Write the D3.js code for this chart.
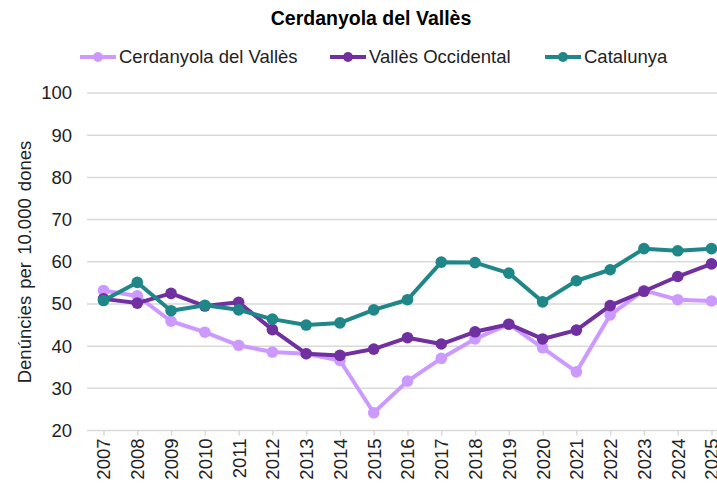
<!DOCTYPE html>
<html>
<head>
<meta charset="utf-8">
<script src="https://cdn.jsdelivr.net/npm/d3@7"></script>
<style>
body { margin: 0; background: #fff; }
svg { display: block; font-family: "Liberation Sans", Arial, sans-serif; }
</style>
</head>
<body>
<svg id="chart" width="717" height="484"></svg>
<script>
const years = ["2007","2008","2009","2010","2011","2012","2013","2014","2015","2016","2017","2018","2019","2020","2021","2022","2023","2024","2025"];
const cerdanyola = [53.2,51.9,45.9,43.3,40.2,38.6,38.2,36.6,24.2,31.7,37.1,41.7,45.2,39.6,33.9,47.4,53.2,51.0,50.7];
const vallesOcc = [51.2,50.2,52.5,49.5,50.4,43.9,38.2,37.8,39.3,42.0,40.5,43.4,45.2,41.7,43.8,49.6,53.0,56.5,59.5];
const catalunya = [50.8,55.1,48.4,49.7,48.6,46.4,45.0,45.5,48.6,51.0,59.9,59.8,57.3,50.5,55.5,58.1,63.1,62.6,63.1];
const yTicks = [20,30,40,50,60,70,80,90,100];
const seriesNames = ["Cerdanyola del Vallès","Vallès Occidental","Catalunya"];
const seriesColors = ["#cc99ff","#7030a0","#1f8787"];
const title = "Cerdanyola del Vallès";
const yTitle = "Denúncies per 10.000 dones";

const series = [cerdanyola, vallesOcc, catalunya].map((v,i)=>({name: seriesNames[i], color: seriesColors[i], values: v}));

const FS = 18.5;
const svg = d3.select("#chart");
const plotLeft = 87, plotRight = 717;
const x = d3.scalePoint().domain(years).range([103.5, 711.5]);
const y = d3.scaleLinear().domain([20,100]).range([430.5, 93]);

// gridlines
svg.append("g").selectAll("line").data(yTicks).join("line")
  .attr("x1", plotLeft).attr("x2", plotRight)
  .attr("y1", d=>y(d)).attr("y2", d=>y(d))
  .attr("stroke", "#d9d9d9").attr("stroke-width", 1.5);

// y axis labels
const yAxis = d3.axisLeft(y).tickValues(yTicks).tickSize(0).tickPadding(0);
const yg = svg.append("g").attr("transform", "translate(72,0)").call(yAxis);
yg.select(".domain").remove();
yg.selectAll("text").attr("font-size", FS).attr("fill", "#222").attr("font-family", "Liberation Sans, Arial, sans-serif");

// x axis
const xAxis = d3.axisBottom(x).tickSize(5).tickPadding(6);
const xg = svg.append("g").attr("transform", "translate(0,430.5)").call(xAxis);
xg.select(".domain").remove();
xg.selectAll(".tick line").attr("stroke", "#d9d9d9").attr("stroke-width", 1.5);
xg.selectAll("text")
  .attr("font-size", FS).attr("fill", "#222").attr("font-family", "Liberation Sans, Arial, sans-serif")
  .attr("transform", "rotate(-90)")
  .attr("text-anchor", "end")
  .attr("x", -8).attr("y", 0).attr("dy", "0.35em");

// lines
const line = d3.line().x((d,i)=>x(years[i])).y(d=>y(d));
const sg = svg.append("g").selectAll("g").data(series).join("g");
sg.append("path").attr("d", d=>line(d.values)).attr("fill","none")
  .attr("stroke", d=>d.color).attr("stroke-width", 4).attr("stroke-linejoin","round");
sg.selectAll("circle").data(d=>d.values.map((v,i)=>({v,i,c:d.color}))).join("circle")
  .attr("cx", d=>x(years[d.i])).attr("cy", d=>y(d.v)).attr("r", 5.8).attr("fill", d=>d.c);

// title
svg.append("text").attr("x", 371).attr("y", 25).attr("text-anchor","middle")
  .attr("font-size", 19.5).attr("font-weight","bold").attr("fill","#000").text(title);

// y title
svg.append("text").attr("transform","translate(31,262) rotate(-90)").attr("text-anchor","middle")
  .attr("font-size", FS).attr("word-spacing", 2).attr("fill","#222").text(yTitle);

// legend
const legendX = [80, 330, 545];
const lg = svg.append("g").selectAll("g").data(series).join("g")
  .attr("transform", (d,i)=>`translate(${legendX[i]},57)`);
lg.append("line").attr("x1",0).attr("x2",36).attr("y1",0).attr("y2",0)
  .attr("stroke", d=>d.color).attr("stroke-width",4);
lg.append("circle").attr("cx",18).attr("cy",0).attr("r",5).attr("fill", d=>d.color);
lg.append("text").attr("x",39).attr("y",0).attr("dy","0.35em").attr("font-size",FS).attr("fill","#222").text(d=>d.name);
</script>
</body>
</html>
